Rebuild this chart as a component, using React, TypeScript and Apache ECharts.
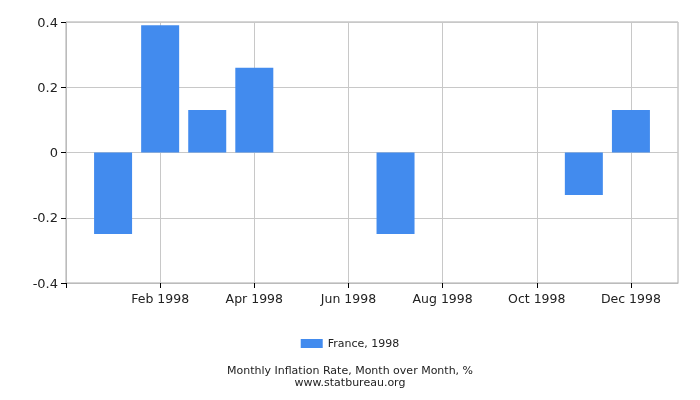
import React, { useEffect, useRef } from "react";
import * as echarts from "echarts";

// months incl. padding slots at both ends (Dec 1997 / Jan 1999 positions)
const months = [
  "",
  "Jan 1998", "Feb 1998", "Mar 1998", "Apr 1998", "May 1998", "Jun 1998",
  "Jul 1998", "Aug 1998", "Sep 1998", "Oct 1998", "Nov 1998", "Dec 1998",
  "",
];
const inflation = [-0.25, 0.39, 0.13, 0.26, 0, 0, -0.25, 0, 0, 0, -0.13, 0.13];
const seriesName = "France, 1998";
const yTicks = { min: -0.4, max: 0.4, step: 0.2 };

const FONT = "DejaVu Sans";

const App = () => {
  const chartRef = useRef<HTMLDivElement>(null);

  useEffect(() => {
    if (!chartRef.current) return;
    const chart = echarts.init(chartRef.current, null, { renderer: "svg" });

    const showEven = (i: number) => i % 2 === 0 && i < months.length - 1;

    chart.setOption({
      animation: false,
      textStyle: { fontFamily: FONT },
      grid: {
        left: 66,
        right: 22,
        top: 22,
        bottom: 117,
        show: true,
        borderColor: "#aaa",
        borderWidth: 1,
      },
      title: [
        {
          text: "Monthly Inflation Rate, Month over Month, %",
          left: "center",
          top: 365,
          padding: 0,
          textStyle: { fontFamily: FONT, fontSize: 11, fontWeight: "normal", color: "#222", lineHeight: 11 },
        },
        {
          text: "www.statbureau.org",
          left: "center",
          top: 377,
          padding: 0,
          textStyle: { fontFamily: FONT, fontSize: 11, fontWeight: "normal", color: "#222", lineHeight: 11 },
        },
      ],
      legend: {
        data: [seriesName],
        left: "center",
        top: 333,
        itemWidth: 22,
        itemHeight: 9,
        itemGap: 4,
        icon: "rect",
        textStyle: { fontFamily: FONT, fontSize: 11, color: "#222" },
      },
      xAxis: {
        type: "category",
        data: months,
        boundaryGap: false,
        axisLine: { onZero: false, lineStyle: { color: "#bbb" } },
        axisTick: {
          show: true,
          length: 5,
          interval: (i: number) => showEven(i),
          lineStyle: { color: "#000" },
        },
        axisLabel: {
          interval: (i: number) => showEven(i) && i > 0,
          fontFamily: FONT,
          fontSize: 12.5,
          color: "#222",
          margin: 9,
        },
        splitLine: {
          show: true,
          interval: (i: number) => showEven(i) && i > 0,
          lineStyle: { color: "#c8c8c8" },
        },
      },
      yAxis: {
        type: "value",
        min: yTicks.min,
        max: yTicks.max,
        interval: yTicks.step,
        axisLine: { show: true, lineStyle: { color: "#bbb" } },
        axisTick: { show: true, length: 5, lineStyle: { color: "#000" } },
        axisLabel: {
          fontFamily: FONT,
          fontSize: 13,
          color: "#222",
          margin: 8,
        },
        splitLine: { lineStyle: { color: "#c8c8c8" } },
      },
      series: [
        {
          name: seriesName,
          type: "bar",
          data: [null, ...inflation, null],
          barWidth: 38,
          itemStyle: { color: "#428BEE" },
        },
      ],
    });

    return () => chart.dispose();
  }, []);

  return (
    <div
      ref={chartRef}
      style={{ position: "fixed", left: 0, top: 0, width: "700px", height: "400px" }}
    />
  );
};

export default App;
